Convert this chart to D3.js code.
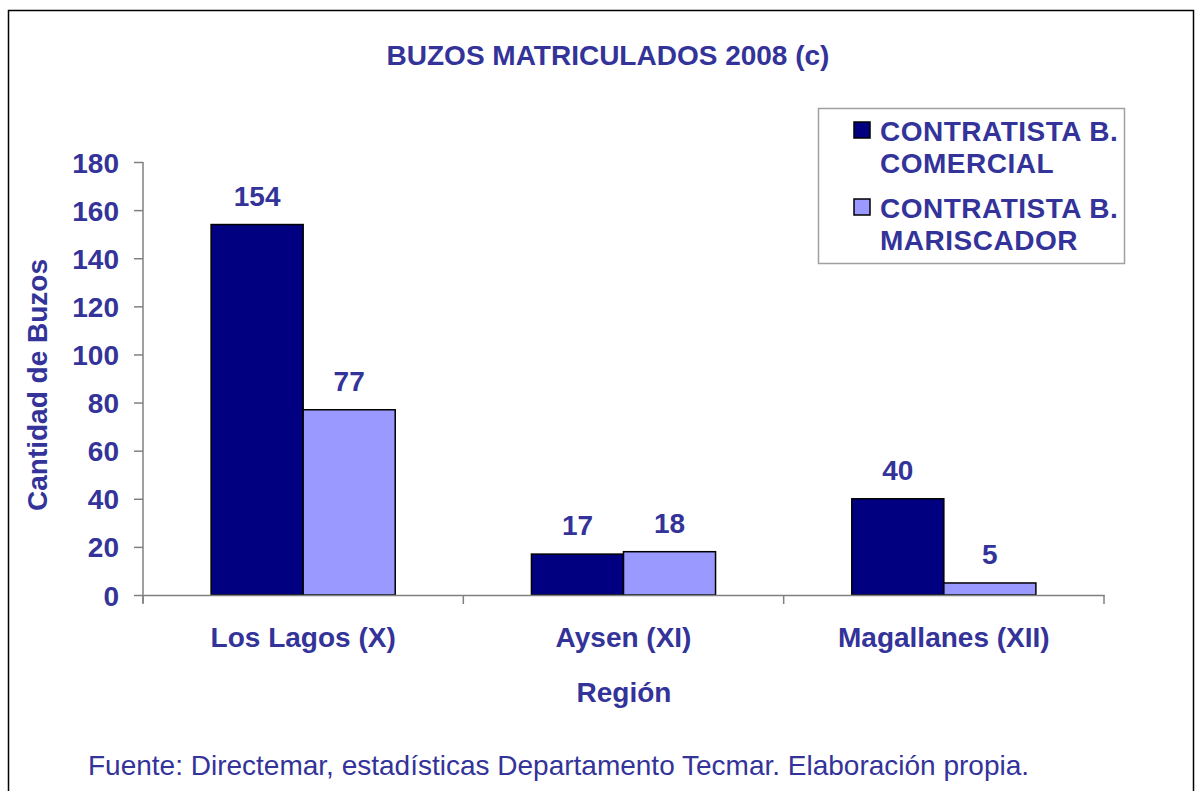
<!DOCTYPE html>
<html lang="en">
<head>
    <meta charset="UTF-8">
    <title>Buzos matriculados 2008</title>
    <script type="text/javascript" src="https://cdn.jsdelivr.net/npm/d3@7"></script>
    <style type="text/css">
        body { margin: 0; background: #fff; }
        text { font-family: "Liberation Sans", Arial, sans-serif; fill: #333399; }
    </style>
</head>
<body>
    <script type="text/javascript">

        // data
        var regions = ['Los Lagos (X)', 'Aysen (XI)', 'Magallanes (XII)'];
        var series = ['CONTRATISTA B. COMERCIAL', 'CONTRATISTA B. MARISCADOR'];
        var comercial = [154, 17, 40];
        var mariscador = [77, 18, 5];
        var yTicks = [0, 20, 40, 60, 80, 100, 120, 140, 160, 180];
        var legendLines = [['CONTRATISTA B.', 'COMERCIAL'], ['CONTRATISTA B.', 'MARISCADOR']];
        var colors = ['#000080', '#9999ff'];

        var w = 1197;
        var h = 791;

        var svg = d3.select("body")
            .append("svg")
            .attr("width", w)
            .attr("height", h);

        // outer frame
        svg.append("rect")
            .attr("x", 8.5).attr("y", 10.5)
            .attr("width", 1185).attr("height", 800)
            .attr("fill", "none")
            .attr("stroke", "#000")
            .attr("stroke-width", 1.5);

        var plotLeft = 143, plotRight = 1104, plotTop = 162, plotBottom = 595;

        var x0 = d3.scaleBand().domain(regions).range([plotLeft, plotRight]).padding(0);
        var x1 = d3.scaleBand().domain(series).range([0, x0.bandwidth()])
            .paddingInner(0).paddingOuter(0.74);
        var y = d3.scaleLinear().domain([0, 180]).range([plotBottom, plotTop]);

        var rows = regions.map(function(r, i) {
            return { region: r, values: [comercial[i], mariscador[i]] };
        });

        // bars
        var groups = svg.selectAll("g.grp")
            .data(rows)
            .enter()
            .append("g")
            .attr("class", "grp")
            .attr("transform", function(d) { return "translate(" + x0(d.region) + ",0)"; });

        groups.selectAll("rect")
            .data(function(d) { return d.values.map(function(v, j) { return { s: series[j], v: v, j: j }; }); })
            .enter()
            .append("rect")
            .attr("x", function(d) { return x1(d.s); })
            .attr("y", function(d) { return y(d.v); })
            .attr("width", x1.bandwidth())
            .attr("height", function(d) { return y(0) - y(d.v); })
            .attr("fill", function(d) { return colors[d.j]; })
            .attr("stroke", "#000")
            .attr("stroke-width", 1.5);

        groups.selectAll("text.val")
            .data(function(d) { return d.values.map(function(v, j) { return { s: series[j], v: v }; }); })
            .enter()
            .append("text")
            .attr("class", "val")
            .attr("x", function(d) { return x1(d.s) + x1.bandwidth() / 2; })
            .attr("y", function(d) { return y(d.v) - 19; })
            .attr("text-anchor", "middle")
            .attr("font-size", "28px")
            .attr("font-weight", "bold")
            .text(function(d) { return d.v; });

        // y axis
        var yAxis = svg.append("g")
            .attr("transform", "translate(" + plotLeft + ",0)")
            .call(d3.axisLeft(y).tickValues(yTicks).tickSize(9).tickPadding(15));
        yAxis.select(".domain").attr("stroke", "#808080").attr("stroke-width", 1.5)
            .attr("d", "M0," + plotTop + "V" + (plotBottom + 8));
        yAxis.selectAll(".tick line").attr("stroke", "#808080").attr("stroke-width", 1.5);
        yAxis.selectAll(".tick text")
            .attr("font-size", "28px")
            .attr("font-weight", "bold")
            .attr("font-family", "Liberation Sans, Arial, sans-serif")
            .attr("fill", "#333399")
            .attr("dy", "0.36em");

        // x axis
        var xAxis = svg.append("g")
            .attr("transform", "translate(0," + plotBottom + ")")
            .call(d3.axisBottom(x0).tickSize(0).tickPadding(32));
        xAxis.select(".domain").attr("stroke", "#808080").attr("stroke-width", 1.5);
        xAxis.selectAll(".tick text")
            .attr("font-size", "28px")
            .attr("font-weight", "bold")
            .attr("font-family", "Liberation Sans, Arial, sans-serif")
            .attr("fill", "#333399");
        // category boundary ticks
        xAxis.selectAll("line.sep")
            .data(regions.concat(['end']))
            .enter()
            .append("line")
            .attr("class", "sep")
            .attr("x1", function(d, i) { return i < regions.length ? x0(d) : plotRight; })
            .attr("x2", function(d, i) { return i < regions.length ? x0(d) : plotRight; })
            .attr("y1", 0).attr("y2", 9)
            .attr("stroke", "#808080").attr("stroke-width", 1.5);

        // titles
        svg.append("text")
            .attr("x", 608).attr("y", 65)
            .attr("text-anchor", "middle")
            .attr("font-size", "28px")
            .attr("font-weight", "bold")
            .text("BUZOS MATRICULADOS 2008 (c)");

        svg.append("text")
            .attr("x", 624).attr("y", 702)
            .attr("text-anchor", "middle")
            .attr("font-size", "28px")
            .attr("font-weight", "bold")
            .text("Región");

        svg.append("text")
            .attr("transform", "translate(47,385) rotate(-90)")
            .attr("text-anchor", "middle")
            .attr("font-size", "28px")
            .attr("font-weight", "bold")
            .text("Cantidad de Buzos");

        svg.append("text")
            .attr("x", 88).attr("y", 775)
            .attr("font-size", "28px")
            .text("Fuente: Directemar, estadísticas Departamento Tecmar. Elaboración propia.");

        // legend
        var legend = svg.append("g");
        legend.append("rect")
            .attr("x", 818.5).attr("y", 108.5)
            .attr("width", 306).attr("height", 155)
            .attr("fill", "#fff")
            .attr("stroke", "#a0a0a0")
            .attr("stroke-width", 1.5);

        var items = legend.selectAll("g.item")
            .data(series)
            .enter()
            .append("g")
            .attr("class", "item")
            .attr("transform", function(d, i) { return "translate(0," + (i * 77) + ")"; });

        items.append("rect")
            .attr("x", 854).attr("y", 122)
            .attr("width", 16).attr("height", 16)
            .attr("fill", function(d, i) { return colors[i]; })
            .attr("stroke", "#000")
            .attr("stroke-width", 1.5);

        items.append("text")
            .attr("x", 880).attr("y", 141)
            .attr("font-size", "28px")
            .attr("font-weight", "bold")
            .attr("letter-spacing", "0.5px")
            .selectAll("tspan")
            .data(function(d, i) { return legendLines[i]; })
            .enter()
            .append("tspan")
            .attr("x", 880)
            .attr("dy", function(d, k) { return k === 0 ? 0 : 32; })
            .text(function(d) { return d; });

    </script>
</body>
</html>
